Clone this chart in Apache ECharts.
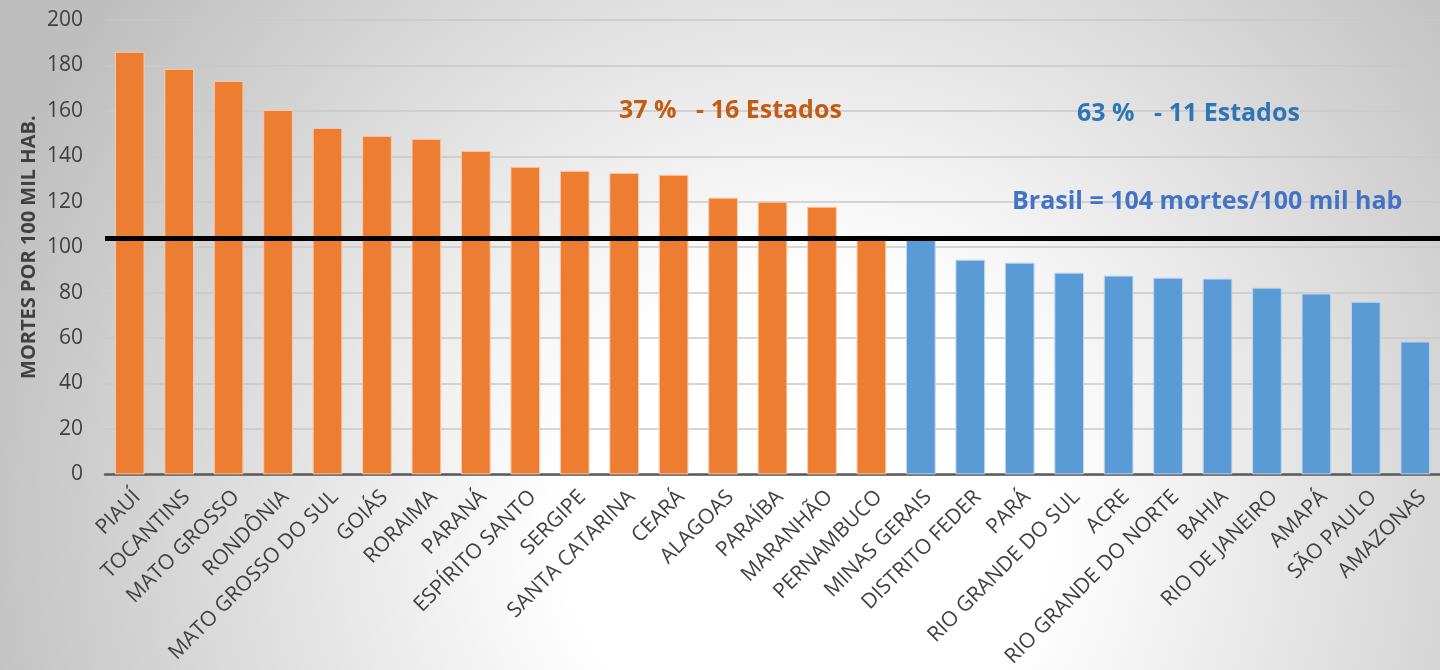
<!DOCTYPE html>
<html><head><meta charset="utf-8">
<script src="https://cdn.jsdelivr.net/npm/echarts@6/dist/echarts.min.js"></script>
<style>html,body{margin:0;padding:0;}#c{width:1440px;height:670px;}</style>
</head><body><div id="c"></div>
<script>
var categories = ["PIAUÍ","TOCANTINS","MATO GROSSO","RONDÔNIA","MATO GROSSO DO SUL","GOIÁS","RORAIMA","PARANÁ","ESPÍRITO SANTO","SERGIPE","SANTA CATARINA","CEARÁ","ALAGOAS","PARAÍBA","MARANHÃO","PERNAMBUCO","MINAS GERAIS","DISTRITO FEDER","PARÁ","RIO GRANDE DO SUL","ACRE","RIO GRANDE DO NORTE","BAHIA","RIO DE JANEIRO","AMAPÁ","SÃO PAULO","AMAZONAS"];
var deaths = [186, 178.5, 173.2, 160.4, 152.5, 149, 147.7, 142.4, 135.4, 133.6, 132.7, 131.9, 121.8, 120, 117.8, 105, 103.3, 94.5, 93.2, 88.8, 87.5, 86.6, 86.2, 82.2, 79.6, 76, 58.5];
var aboveCount = 16;
var brasilRate = 104;
var yTicks = [0, 20, 40, 60, 80, 100, 120, 140, 160, 180, 200];
var annotations = ["37 %   - 16 Estados", "63 %   - 11 Estados", "Brasil = 104 mortes/100 mil hab"];

var chart = echarts.init(document.getElementById('c'));
chart.setOption({
  animation: false,
  backgroundColor: {type:'radial', x:0.56, y:0.78, r:1.3, colorStops:[{offset:0,color:'#ffffff'},{offset:0.28,color:'#ffffff'},{offset:1,color:'#bebebe'}]},
  grid: {left:105, right:-15, top:20, bottom:195},
  xAxis: {
    type:'category', data:categories,
    axisLine:{lineStyle:{color:'#595959', width:2.5}},
    axisTick:{length:6, lineStyle:{color:'#595959', width:2}},
    axisLabel:{rotate:45, interval:0, color:'#404040', fontSize:21, fontFamily:'Open Sans', margin:12, verticalAlign:'top'}
  },
  yAxis: {
    type:'value', min:yTicks[0], max:yTicks[yTicks.length-1], interval:yTicks[1]-yTicks[0],
    name:'MORTES POR 100 MIL HAB.', nameLocation:'middle', nameGap:66, nameMoveOverlap:false,
    nameTextStyle:{fontSize:20, fontWeight:'bold', color:'#404040', fontFamily:'Open Sans'},
    axisLine:{show:false}, axisTick:{show:false},
    axisLabel:{color:'#404040', fontSize:21, fontFamily:'Open Sans', margin:22},
    splitLine:{lineStyle:{color:'#c8c8c8', width:1.5}}
  },
  series: [{
    type:'bar', barWidth:'60%',
    data: deaths.map(function(v, i){
      var above = i < aboveCount;
      return {value:v, itemStyle:{color: above ? '#ED7D31' : '#5B9BD5', borderColor: above ? '#F8CBAD' : '#BDD7EE', borderWidth:1}};
    }),
    markLine: {
      silent:true, symbol:'none', label:{show:false},
      lineStyle:{color:'#000000', width:5, type:'solid'},
      data:[{yAxis:brasilRate}]
    }
  }],
  graphic: [
    {type:'text', z:100, left:619, top:98, style:{text:annotations[0], fill:'#C55A11', fontSize:25, fontWeight:'bold', fontFamily:'Open Sans', lineHeight:26}},
    {type:'text', z:100, left:1077, top:101, style:{text:annotations[1], fill:'#2E75B6', fontSize:25, fontWeight:'bold', fontFamily:'Open Sans', lineHeight:26}},
    {type:'text', z:100, left:1012, top:189, style:{text:annotations[2], fill:'#4472C4', fontSize:25, fontWeight:'bold', fontFamily:'Open Sans', lineHeight:26}}
  ]
});
</script></body></html>
